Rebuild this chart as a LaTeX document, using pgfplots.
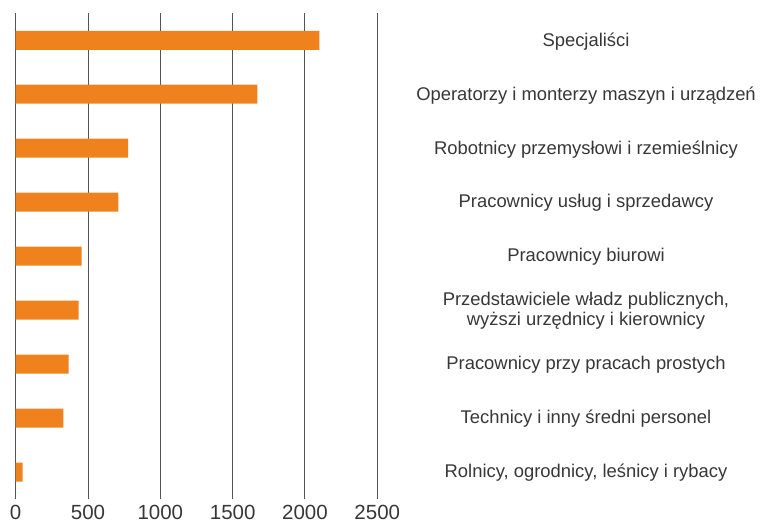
\documentclass[border=0pt]{standalone}
\usepackage{pgfplots}
\pgfplotsset{compat=1.18}
\usepackage{fontspec}
\setmainfont{Liberation Sans}
\definecolor{barorange}{RGB}{240,130,30}
\definecolor{gridgray}{RGB}{85,85,85}
\definecolor{txt}{RGB}{55,55,55}
\begin{document}
\begin{tikzpicture}
\begin{axis}[
 xbar, scale only axis, width=361.6bp, height=485.7bp,
 xmin=0, xmax=2500, ymin=-0.5, ymax=8.5,
 axis line style={draw=none},
 xtick={0,500,...,2500}, ytick={0,...,8},
 yticklabels={{Rolnicy, ogrodnicy, leśnicy i rybacy},
   {Technicy i inny średni personel},
   {Pracownicy przy pracach prostych},
   {Przedstawiciele władz publicznych,\\wyższi urzędnicy i kierownicy},
   {Pracownicy biurowi},
   {Pracownicy usług i sprzedawcy},
   {Robotnicy przemysłowi i rzemieślnicy},
   {Operatorzy i monterzy maszyn i urządzeń},
   {Specjaliści}},
 yticklabel pos=right,
 major tick length=0pt,
 xmajorgrids, grid style={gridgray, line width=1bp},
 bar width=19bp,
 clip=false,
 /pgf/number format/assume math mode=true,
 /pgf/number format/1000 sep={},
 xticklabel style={font=\fontsize{20.5bp}{22bp}\selectfont, text=txt, yshift=-3bp},
 yticklabel style={font=\fontsize{18.4bp}{20bp}\selectfont, text=txt, align=center, anchor=center, xshift=208.7bp, yshift=-1bp},
]
\addplot[fill=barorange, draw=none] coordinates {(48,0) (329,1) (366,2) (435,3) (456,4) (709,5) (778,6) (1670,7) (2100,8)};
\coordinate (bl) at (rel axis cs:0,0);
\coordinate (tr) at (rel axis cs:1,1);
\end{axis}
\pgfresetboundingbox
\path (bl) ++(-15.7bp,-28bp) coordinate (a);
\path (tr) ++(382.7bp,13.3bp) coordinate (b);
\path[use as bounding box] (a) rectangle (b);
\end{tikzpicture}
\end{document}
